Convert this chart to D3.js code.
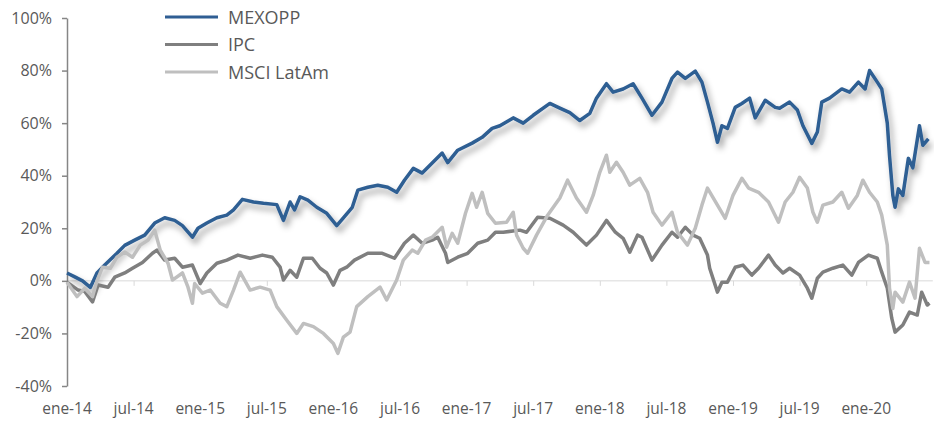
<!DOCTYPE html>
<html>
<head>
<meta charset="utf-8">
<script src="https://cdn.jsdelivr.net/npm/d3@7"></script>
<style>
  body { margin: 0; background: #fff; }
  svg { font-family: "Open Sans", sans-serif; }
</style>
</head>
<body>
<div id="chart"></div>
<script>
// x = months since ene-14, y = return in %
var xTickLabels = ["ene-14","jul-14","ene-15","jul-15","ene-16","jul-16","ene-17","jul-17","ene-18","jul-18","ene-19","jul-19","ene-20"];
var yTicks = [-40, -20, 0, 20, 40, 60, 80, 100];
var seriesNames = ["MEXOPP", "IPC", "MSCI LatAm"];

var mexopp = [[0,3],[0.7,1.5],[1.4,0],[2.1,-2.5],[2.7,3],[3.4,6],[4.5,10.5],[5.2,13.5],[6.1,15.5],[7.0,17.4],
  [7.9,22],[8.8,24],[9.7,23],[10.4,21],[11.3,16.6],[11.8,20],[12.6,22],[13.5,24],[14.4,25],[15.0,27],
  [15.8,31],[16.8,30],[17.7,29.5],[18.9,29],[19.5,23],[20.1,30],[20.5,27],[21.0,32],[21.7,30.7],[22.5,28],
  [23.4,25.7],[24.3,21],[24.9,24],[25.7,28],[26.2,34.5],[27.1,35.6],[28.0,36.4],[28.9,35.6],[29.7,33.7],[30.4,38.3],
  [31.2,42.8],[32.0,41],[32.9,44.8],[33.8,48.6],[34.3,45],[35.2,49.7],[36.5,52.4],[37.4,54.6],[38.3,58],[39.0,59],
  [40.2,62],[41.1,60],[42.0,63],[43.5,67.5],[44.4,65.7],[45.3,64],[46.2,61],[47.1,63.7],[47.7,69.5],[48.6,75],
  [49.2,71.8],[50.1,73],[51.0,75],[51.8,69.5],[52.7,63],[53.6,68],[54.5,77],[55.0,79.4],[55.7,77],[56.6,79.8],
  [57.2,75.6],[57.7,68],[58.2,60],[58.6,52.7],[59.0,59],[59.5,58],[60.2,66],[60.8,67.5],[61.5,69.5],[62.0,62],
  [62.9,68.7],[63.8,66],[64.2,65.7],[65.1,68],[65.8,65],[66.3,59],[67.1,52.3],[67.6,56.6],[68.0,68],[68.7,69.5],
  [69.8,73],[70.5,71.8],[71.3,75.6],[71.9,73],[72.3,80],[73.0,75.6],[73.4,73],[73.9,60],[74.1,47.6],[74.4,32.5],
  [74.6,28],[74.9,35],[75.3,32.5],[75.8,46.6],[76.2,43],[76.8,59],[77.1,51.6],[77.6,54]];

var ipc = [[0,-0.5],[1.0,-3.5],[1.6,-4],[2.3,-8],[2.8,-1.6],[3.7,-2.4],[4.3,1.4],[5.2,3],[5.9,4.8],[6.8,7],
  [7.7,10.5],[8.1,11.7],[8.8,7.9],[9.7,8.6],[10.4,5.2],[11.3,6],[12.0,-1],[12.6,3],[13.5,6.7],[14.4,7.9],
  [15.4,9.8],[16.5,8.6],[17.6,9.8],[18.5,9],[19.2,5.2],[19.5,0.3],[20.1,4],[20.7,1.4],[21.3,8.6],[22.1,8.6],
  [22.8,4.8],[23.4,3],[24.0,-1.6],[24.6,4],[25.2,5.2],[25.9,7.9],[27.1,10.5],[28.4,10.5],[29.5,8.6],[30.4,14.3],
  [31.2,17.4],[32.0,14.3],[32.9,15.5],[33.4,16.6],[34.1,10.5],[34.3,7],[35.2,9],[36.1,10.5],[37.0,14.3],[37.9,15.5],
  [38.6,18.5],[39.3,18.5],[40.8,19.3],[41.4,18.5],[42.4,24.2],[43.5,23.8],[44.7,21.2],[45.6,18.5],[46.8,13.6],[47.7,17.4],
  [48.6,23],[49.4,18.5],[50.1,16.2],[50.7,10.9],[51.4,17.4],[51.8,16.6],[52.7,7.9],[53.6,13.6],[54.5,18.5],[55.0,16.6],
  [55.7,20.4],[56.4,17.4],[57.0,16.2],[57.7,9.8],[57.9,4.8],[58.6,-4.3],[59.0,-0.5],[59.5,-0.5],[60.2,5.2],[60.9,6],
  [61.7,2.2],[62.3,4.8],[63.2,9.8],[63.8,6],[64.5,3],[65.1,4.8],[66.0,2.2],[66.7,-2.8],[67.1,-6.6],[67.6,1],
  [68.1,3.3],[69.0,4.8],[69.9,6],[70.7,2.2],[71.3,7],[72.2,9.8],[73.0,8.6],[73.4,3.3],[73.9,-2.8],[74.3,-14.2],
  [74.6,-19.5],[75.3,-16.8],[75.9,-11.9],[76.6,-13],[77.0,-4.3],[77.5,-9.2],[77.7,-8.5]];

var msci = [[0,-0.5],[0.9,-6],[1.6,-2.8],[2.3,-6],[2.7,0],[3.2,5.2],[3.9,4.8],[4.5,9],[5.2,11],[5.9,9],
  [6.6,13.6],[7.3,15.5],[7.9,19.3],[8.4,11.7],[9.1,6.7],[9.5,0.3],[10.4,3],[10.9,-2.4],[11.3,-8.5],[11.5,-1],
  [12.2,-4.7],[12.9,-3.5],[13.8,-8.5],[14.4,-9.8],[15.0,-3.5],[15.6,3.3],[16.5,-3.5],[17.4,-2.4],[18.3,-3.5],[18.9,-9.8],
  [19.8,-15],[20.7,-20],[21.3,-16.2],[22.2,-17.4],[23.1,-20],[24.0,-23.8],[24.4,-27.6],[24.9,-21.4],[25.5,-19.5],[26.1,-9.8],
  [27.1,-6],[28.2,-2.4],[28.8,-7.3],[29.7,0.3],[30.3,7.9],[31.1,11.7],[31.6,10.5],[32.3,15.5],[32.9,16.6],[33.8,20.4],
  [34.2,12.8],[34.7,18.1],[35.2,14.3],[35.9,25.7],[36.5,33.3],[36.9,28],[37.4,33.7],[37.9,25.7],[38.6,21.9],[39.6,22.3],
  [40.2,26.1],[40.5,17.4],[41.1,12.4],[41.5,10.5],[42.3,17.4],[43.3,25],[44.4,31.5],[45.1,38.3],[45.9,31.5],[46.8,26.1],
  [47.4,32.5],[48.0,41.3],[48.6,47.8],[48.9,41.3],[49.5,45.1],[50.1,41.3],[50.7,36.4],[51.6,39],[52.3,33.7],[52.8,26.1],
  [53.6,21.2],[54.5,26.1],[55.0,18.5],[55.9,13.6],[56.6,20],[57.2,28.8],[57.7,35.3],[58.6,28.8],[59.3,23.8],[60.0,32.5],
  [60.8,39],[61.4,35.3],[62.3,33.7],[63.2,30],[64.1,22.3],[64.7,30],[65.4,33.7],[66.0,39.4],[66.7,35.3],[67.2,26.1],
  [67.6,22.3],[68.1,28.8],[69.0,30],[69.8,33.7],[70.4,27.6],[71.2,32.5],[71.7,38.3],[72.3,33.7],[73.0,30],[73.4,25],
  [73.9,13.6],[74.1,-2.8],[74.4,-10.5],[74.6,-4.3],[75.3,-8.1],[75.9,-0.5],[76.4,-6.6],[76.8,12.4],[77.3,7],[77.7,7]];

var width = 934;
var height = 421;
var left = 67;
var colors = ["#2F5E93", "#7F7F7F", "#BFBFBF"];

var svg = d3.select("#chart").append("svg")
    .attr("width", width)
    .attr("height", height);

var defs = svg.append("defs");
var shadow = defs.append("filter")
    .attr("id", "shadow")
    .attr("x", "-5%").attr("y", "-20%")
    .attr("width", "110%").attr("height", "140%");
shadow.append("feDropShadow")
    .attr("dx", 3).attr("dy", 5)
    .attr("stdDeviation", 3)
    .attr("flood-color", "#000")
    .attr("flood-opacity", 0.38);

var xScale = d3.scaleLinear()
    .domain([0, 78])
    .range([left, left + 78 * 11.1]);

var yScale = d3.scaleLinear()
    .domain([-40, 100])
    .range([386, 18]);

/* zero line with the month ticks */
var xAxis = d3.axisBottom(xScale)
    .tickValues(d3.range(0, 73, 6))
    .tickSize(5)
    .tickFormat("");

var gx = svg.append("g")
    .attr("transform", `translate(0, ${yScale(0)})`)
    .call(xAxis);
gx.select(".domain").attr("d", `M${left},0H${xScale(78)}`).attr("stroke", "#D9D9D9");
gx.selectAll(".tick line").attr("stroke", "#D9D9D9");

/* month labels sit below the plot */
svg.append("g").selectAll("text")
    .data(xTickLabels).enter()
    .append("text")
    .attr("x", (d, i) => xScale(i * 6))
    .attr("y", 414)
    .attr("text-anchor", "middle")
    .attr("fill", "#595959")
    .style("font-size", "15.5px")
    .text(d => d);

var yAxis = d3.axisLeft(yScale)
    .tickValues(yTicks)
    .tickSize(5)
    .tickSizeOuter(0)
    .tickPadding(10)
    .tickFormat(d => d + "%");

var gy = svg.append("g")
    .attr("transform", `translate(${left}, 0)`)
    .call(yAxis);
gy.select(".domain").attr("stroke", "#868686").attr("stroke-width", 1.5);
gy.selectAll(".tick line").attr("stroke", "#868686").attr("stroke-width", 1.5);
gy.selectAll(".tick text")
    .attr("fill", "#595959")
    .style("font-size", "16px")
    .style("font-family", "'Open Sans', sans-serif");

var line = d3.line()
    .x(d => xScale(d[0]))
    .y(d => yScale(d[1]));

var allSeries = [mexopp, ipc, msci];
svg.append("g").selectAll("path")
    .data(allSeries).enter()
    .append("path")
    .attr("d", d => line(d))
    .attr("fill", "none")
    .attr("stroke", (d, i) => colors[i])
    .attr("stroke-width", 3.5)
    .attr("stroke-linejoin", "round")
    .attr("filter", (d, i) => i == 0 ? "url(#shadow)" : null);

/* legend */
var legend = svg.append("g").selectAll("g")
    .data(seriesNames).enter()
    .append("g")
    .attr("transform", (d, i) => `translate(165, ${17 + i * 27.5})`);
legend.append("line")
    .attr("x1", 0).attr("x2", 53)
    .attr("stroke", (d, i) => colors[i])
    .attr("stroke-width", 3);
legend.append("text")
    .attr("x", 63)
    .attr("y", 6.5)
    .attr("fill", "#595959")
    .style("font-size", "18px")
    .text(d => d);
</script>
</body>
</html>
